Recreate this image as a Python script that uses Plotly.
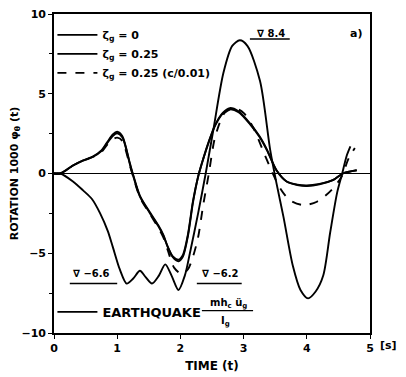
import plotly.graph_objects as go

# ---- data ----
t_eq = [0, 0.1, 0.3, 0.46, 0.6, 0.73, 0.85, 0.93, 1.04, 1.15, 1.25, 1.36, 1.45, 1.55, 1.66, 1.76,
        1.86, 1.97, 2.07, 2.15, 2.28, 2.4, 2.52, 2.68, 2.82, 2.94, 3.06, 3.26, 3.42, 3.52, 3.63,
        3.78, 3.9, 4.02, 4.14, 4.26, 4.37, 4.48, 4.56, 4.63, 4.69]
v_eq = [0, 0, -0.5, -1.06, -1.6, -2.5, -3.6, -4.6, -6.0, -6.9, -6.6, -6.1, -6.5, -6.9, -6.4, -5.7,
        -6.4, -7.3, -6.4, -5.0, -2.5, 0, 2.7, 6.3, 8.0, 8.35, 8.0, 5.8, 1.5, -0.6, -2.7,
        -5.8, -7.3, -7.83, -7.4, -6.4, -3.7, -1.2, 0, 1.1, 1.7]

t_z0 = [0, 0.1, 0.3, 0.46, 0.62, 0.75, 0.84, 0.93, 1.0, 1.08, 1.2, 1.25, 1.36, 1.52, 1.65, 1.73,
        1.8, 1.88, 1.97, 2.04, 2.12, 2.2, 2.28, 2.36, 2.45, 2.55, 2.67, 2.78, 2.92, 3.1, 3.25,
        3.37, 3.52, 3.68, 3.85, 4.0, 4.2, 4.42, 4.57, 4.79]
v_z0 = [0, 0, 0.5, 0.82, 1.08, 1.45, 1.95, 2.45, 2.62, 2.35, 0.65, -0.05, -1.4, -2.45, -3.25, -3.85,
        -4.6, -5.25, -5.5, -5.2, -3.9, -1.8, -0.2, 0.9, 2.0, 3.05, 3.8, 4.1, 3.9, 3.15, 2.35,
        1.5, 0.2, -0.5, -0.72, -0.78, -0.68, -0.4, 0, 0.2]

t_z25 = [0, 0.1, 0.3, 0.46, 0.62, 0.75, 0.84, 0.93, 1.0, 1.08, 1.2, 1.25, 1.36, 1.52, 1.65, 1.73,
         1.8, 1.88, 1.97, 2.04, 2.12, 2.2, 2.28, 2.36, 2.45, 2.55, 2.67, 2.78, 2.92, 3.1, 3.25,
         3.37, 3.52, 3.68, 3.85, 4.0, 4.2, 4.42, 4.57, 4.79]
v_z25 = [0, 0, 0.5, 0.8, 1.05, 1.4, 1.9, 2.35, 2.52, 2.28, 0.6, -0.1, -1.45, -2.5, -3.3, -3.9,
         -4.6, -5.2, -5.4, -5.1, -3.8, -1.7, -0.2, 0.9, 2.0, 3.0, 3.75, 4.02, 3.85, 3.1, 2.3,
         1.45, 0.2, -0.5, -0.7, -0.75, -0.65, -0.4, 0, 0.2]

t_dash = [0, 0.1, 0.3, 0.46, 0.62, 0.75, 0.84, 0.93, 1.0, 1.08, 1.2, 1.25, 1.36, 1.52, 1.65, 1.73,
          1.8, 1.9, 2.02, 2.12, 2.2, 2.28, 2.36, 2.45, 2.55, 2.7, 2.85, 3.0, 3.15, 3.3, 3.45,
          3.58, 3.73, 3.94, 4.16, 4.39, 4.55, 4.66, 4.76]
v_dash = [0, 0, 0.5, 0.8, 1.05, 1.35, 1.8, 2.15, 2.25, 2.05, 0.5, -0.15, -1.5, -2.55, -3.4, -4.0,
          -4.8, -5.9, -6.3, -6.0, -5.2, -4.0, -2.0, 0, 2.3, 3.8, 4.1, 3.8, 2.9, 1.5, 0.1,
          -0.94, -1.67, -1.98, -1.77, -1.04, -0.2, 0.93, 1.6]

x_ticks = [0, 1, 2, 3, 4, 5]
y_ticks = [-10, -5, 0, 5, 10]

name_z0 = "<b>ζ<sub>g</sub> = 0</b>"
name_z25 = "<b>ζ<sub>g</sub> = 0.25</b>"
name_dash = "<b>ζ<sub>g</sub> = 0.25 (c/0.01)</b>"
name_eq = "<b>EARTHQUAKE</b>"

FONT = "DejaVu Sans, Liberation Sans, sans-serif"
LW = 1.9


def note(x, y, text, ref="data", size=11):
    xr, yr = ("x", "y") if ref == "data" else ("paper", "paper")
    return dict(x=x, y=y, xref=xr, yref=yr, text=text, showarrow=False,
                xanchor="center", yanchor="middle",
                font=dict(size=size, family=FONT, color="black"))


fig = go.Figure()
fig.add_trace(go.Scatter(x=t_z0, y=v_z0, mode="lines", name=name_z0,
                         line=dict(color="black", width=LW, shape="spline", smoothing=0.8)))
fig.add_trace(go.Scatter(x=t_z25, y=v_z25, mode="lines", name=name_z25,
                         line=dict(color="black", width=LW, shape="spline", smoothing=0.8)))
fig.add_trace(go.Scatter(x=t_dash, y=v_dash, mode="lines", name=name_dash,
                         line=dict(color="black", width=LW, dash="dash", shape="spline", smoothing=0.8)))
fig.add_trace(go.Scatter(x=t_eq, y=v_eq, mode="lines", name=name_eq, legend="legend2",
                         line=dict(color="black", width=LW, shape="spline", smoothing=0.8)))

annotations = [
    note(4.78, 8.8, "<b>a)</b>", size=11),
    note(3.43, 8.8, "<b>∇ 8.4</b>", size=10),
    note(0.6, -6.27, "<b>∇ −6.6</b>", size=10),
    note(2.63, -6.27, "<b>∇ −6.2</b>", size=10),
    note(1.06, -0.04, "<b>[s]</b>", ref="paper", size=11),
    note(0.551, 0.094, "<b>mh<sub>c</sub> ü<sub>g</sub></b>", ref="paper", size=10),
    note(0.544, 0.035, "<b>I<sub>g</sub></b>", ref="paper", size=10),
]

shapes = [
    dict(type="line", xref="x", yref="y", x0=3.1, x1=3.73, y0=8.44, y1=8.44,
         line=dict(color="black", width=1.5)),
    dict(type="line", xref="x", yref="y", x0=0.25, x1=1.0, y0=-6.9, y1=-6.9,
         line=dict(color="black", width=1.5)),
    dict(type="line", xref="x", yref="y", x0=2.26, x1=2.97, y0=-6.9, y1=-6.9,
         line=dict(color="black", width=1.5)),
    dict(type="line", xref="paper", yref="paper", x0=0.468, x1=0.630, y0=0.070, y1=0.070,
         line=dict(color="black", width=1.3)),
]

fig.update_layout(
    width=398, height=369,
    margin=dict(l=46, r=36, t=6, b=44, autoexpand=False),
    paper_bgcolor="white", plot_bgcolor="white",
    font=dict(family=FONT, color="black", size=11),
    showlegend=True,
    legend=dict(x=-0.005, y=0.98, xanchor="left", yanchor="top", bgcolor="rgba(0,0,0,0)",
                font=dict(size=11, family=FONT), itemwidth=40, tracegroupgap=0,
                borderwidth=0),
    legend2=dict(x=-0.005, y=0.066, xanchor="left", yanchor="middle", bgcolor="rgba(0,0,0,0)",
                 font=dict(size=13, family=FONT), itemwidth=40, borderwidth=0),
    annotations=annotations,
    shapes=shapes,
    xaxis=dict(range=[0, 5], tickvals=x_ticks, ticktext=[f"<b>{v}</b>" for v in x_ticks],
               automargin=False, ticklabeloverflow="allow",
               showgrid=False, zeroline=False, showline=True, mirror=True,
               linecolor="black", linewidth=1.6, ticks="outside", ticklen=4, tickwidth=1.3,
               tickcolor="black", tickfont=dict(size=11, family=FONT),
               title=dict(text="<b>TIME (t)</b>", font=dict(size=12, family=FONT), standoff=8)),
    yaxis=dict(range=[-10, 10], tickvals=y_ticks,
               ticktext=["<b>−10</b>", "<b>−5</b>", "<b>0</b>", "<b>5</b>", "<b>10</b>"],
               automargin=False, ticklabeloverflow="allow",
               showgrid=False, zeroline=True, zerolinecolor="black", zerolinewidth=1.4,
               showline=True, mirror=True, linecolor="black", linewidth=1.6,
               ticks="outside", ticklen=4, tickwidth=1.3, tickcolor="black",
               tickfont=dict(size=11, family=FONT),
               minor=dict(tickvals=[-7.5, -2.5, 2.5, 7.5], ticks="outside", ticklen=3,
                          tickwidth=1.2, tickcolor="black"),
               title=dict(text="<b>ROTATION 1000 φ<sub>θ</sub> (t)</b>",
                          font=dict(size=11, family=FONT), standoff=2)),
)

fig.write_html("out.html")
